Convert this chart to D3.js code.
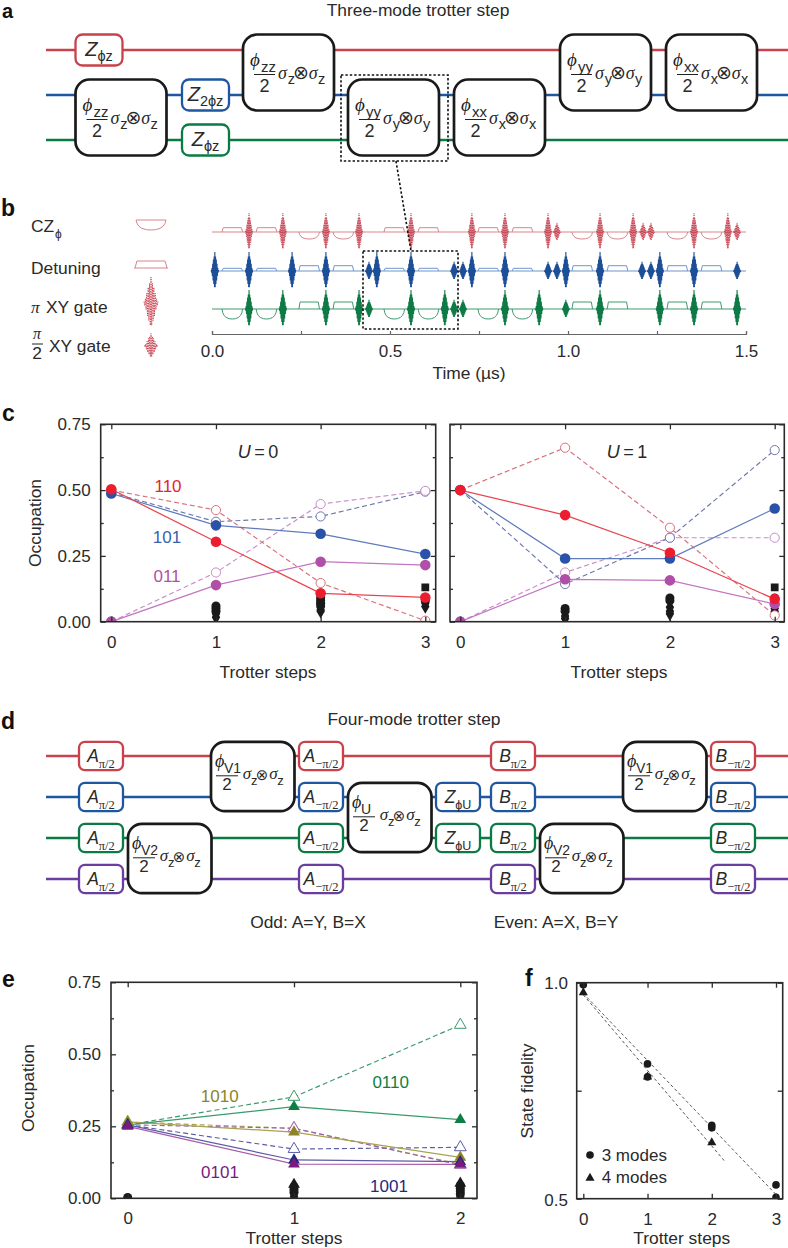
<!DOCTYPE html>
<html><head><meta charset="utf-8">
<script src="https://cdn.jsdelivr.net/npm/d3@7"></script>
<style>
html,body{margin:0;padding:0;background:#fff}
svg{display:block}
text{font-family:"Liberation Sans",Arial,sans-serif;fill:#2a2a2a}
.serif{font-family:"Liberation Serif",serif;font-style:italic}
.obl{font-style:italic}
</style></head><body>
<div id="c"></div>
<script>
// ---------- DATA ----------
const threeModeWires = ["red","blue","green"];
const fourModeWires = ["red","blue","green","purple"];
const threeModeGates = [
 {col:0,w0:0,w1:0,letter:"Z",sub:"ϕz"},
 {col:0,w0:1,w1:2,phi:"zz",pauli:"z"},
 {col:1,w0:1,w1:1,letter:"Z",sub:"2ϕz"},
 {col:1,w0:2,w1:2,letter:"Z",sub:"ϕz"},
 {col:2,w0:0,w1:1,phi:"zz",pauli:"z"},
 {col:3,w0:1,w1:2,phi:"yy",pauli:"y"},
 {col:4,w0:1,w1:2,phi:"xx",pauli:"x"},
 {col:5,w0:0,w1:1,phi:"yy",pauli:"y"},
 {col:6,w0:0,w1:1,phi:"xx",pauli:"x"}
];
const fourModeGates = [
 {col:0,w0:0,w1:0,letter:"A",sub:"π/2"},{col:0,w0:1,w1:1,letter:"A",sub:"π/2"},
 {col:0,w0:2,w1:2,letter:"A",sub:"π/2"},{col:0,w0:3,w1:3,letter:"A",sub:"π/2"},
 {col:1,w0:2,w1:3,phi:"V2",pauli:"z"},
 {col:2,w0:0,w1:1,phi:"V1",pauli:"z"},
 {col:3,w0:0,w1:0,letter:"A",sub:"−π/2"},{col:3,w0:1,w1:1,letter:"A",sub:"−π/2"},
 {col:3,w0:2,w1:2,letter:"A",sub:"−π/2"},{col:3,w0:3,w1:3,letter:"A",sub:"−π/2"},
 {col:4,w0:1,w1:2,phi:"U",pauli:"z"},
 {col:5,w0:1,w1:1,letter:"Z",sub:"ϕU"},{col:5,w0:2,w1:2,letter:"Z",sub:"ϕU"},
 {col:6,w0:0,w1:0,letter:"B",sub:"π/2"},{col:6,w0:1,w1:1,letter:"B",sub:"π/2"},
 {col:6,w0:2,w1:2,letter:"B",sub:"π/2"},{col:6,w0:3,w1:3,letter:"B",sub:"π/2"},
 {col:7,w0:2,w1:3,phi:"V2",pauli:"z"},
 {col:8,w0:0,w1:1,phi:"V1",pauli:"z"},
 {col:9,w0:0,w1:0,letter:"B",sub:"−π/2"},{col:9,w0:1,w1:1,letter:"B",sub:"−π/2"},
 {col:9,w0:2,w1:2,letter:"B",sub:"−π/2"},{col:9,w0:3,w1:3,letter:"B",sub:"−π/2"}
];
// Pulse sequence, times in microseconds
const timeTicks = [0,0.25,0.5,0.75,1,1.25,1.5];
const redPi = [.104,.199,.320,.413,.559,.730,.823,.944,1.090,1.183,1.354,1.449];
const redHalfPi = [.969,1.211,1.233,1.475];
const bluePi = [.008,.104,.225,.320,.463,.559,.730,.823,.994,1.090,1.258,1.354];
const blueHalfPi = [.441,.680,.705,.944,.969,1.208,1.233,1.475];
const greenPi = [.104,.199,.320,.413,.559,.654,.823,.919,1.090,1.258,1.354,1.475];
const greenHalfPi = [.441,.680,.705,.994];
const redSegments = [[.028,"det",.43],[.124,"det",.43],[.244,"cz",.7],[.340,"cz",.7],[.483,"det",.43],[.579,"det",.43],[.747,"det",.43],[.843,"det",.43],[1.011,"cz",.7],[1.110,"cz",.7],[1.278,"cz",.7],[1.374,"cz",.7]];
const blueSegments = [[.028,"det",.27],[.124,"det",.27],[.244,"det",.53],[.340,"det",.53],[.483,"det",.27],[.579,"det",.27],[.747,"det",.27],[.843,"det",.27],[1.011,"det",.53],[1.110,"det",.53],[1.278,"det",.53],[1.374,"det",.53]];
const greenSegments = [[.028,"cz",1],[.124,"cz",1],[.244,"det",.7],[.340,"det",.7],[.483,"cz",1],[.579,"cz",1],[.747,"cz",1],[.843,"cz",1],[1.011,"det",.7],[1.110,"det",.7],[1.278,"det",.7],[1.374,"det",.7]];
const pulseEnvelope = [.05,.09,.16,.26,.38,.5,.6,.68,.76,.86,1,.86,.76,.68,.6,.5,.38,.26,.16,.09,.05];
const bowlShape = [[0,0],[.04,.38],[.1,.64],[.2,.84],[.35,.97],[.5,1],[.65,.97],[.8,.84],[.9,.64],[.96,.38],[1,0]];
const trapezoidShape = [[0,0],[.06,1],[.94,1],[1,0]];
// Panel c
const steps3 = [0,1,2,3];
const u0Red = [.503,.304,.108,.092];
const u0Blue = [.487,.366,.334,.257];
const u0Purple = [0,.139,.228,.215];
const u0RedIdeal = [.5,.424,.147,.004];
const u0BlueIdeal = [.49,.38,.40,.494];
const u0PurpleIdeal = [0,.187,.447,.497];
const u0Black = [[0,.003,"c"],[1,.06,"c"],[1,.05,"c"],[1,.04,"c"],[1,.03,"d"],[1,.017,"d"],[2,.09,"c"],[2,.08,"c"],[2,.07,"c"],[2,.06,"c"],[2,.045,"d"],[2,.04,"d"],[3,.13,"s"],[3,.08,"c"],[3,.07,"d"],[3,.058,"d"]];
const u1Red = [.5,.405,.262,.086];
const u1Blue = [.5,.24,.24,.43];
const u1Purple = [0,.161,.157,.067];
const u1RedIdeal = [.5,.661,.357,.024];
const u1BlueIdeal = [.5,.143,.319,.652];
const u1PurpleIdeal = [0,.187,.319,.319];
const u1Black = [[0,.003,"c"],[1,.05,"c"],[1,.04,"c"],[1,.022,"d"],[1,.012,"d"],[2,.09,"c"],[2,.08,"c"],[2,.055,"d"],[2,.04,"d"],[2,.03,"d"],[3,.13,"s"],[3,.09,"c"],[3,.08,"c"],[3,.05,"d"],[3,.04,"d"]];
// Panel e
const steps2 = [0,1,2];
const e0110 = [.255,.318,.273];
const e1010 = [.265,.23,.142];
const e1001 = [.255,.133,.127];
const e0101 = [.25,.119,.118];
const e0110Ideal = [.255,.352,.602];
const e1010Ideal = [.265,.243,.118];
const e1001Ideal = [.255,.171,.177];
const e0101Ideal = [.255,.243,.116];
const eBlack = [[0,.003,"c"],[1,.048,"t"],[1,.04,"c"],[1,.03,"c"],[1,.02,"c"],[1,.006,"d"],[2,.052,"t"],[2,.045,"c"],[2,.035,"c"],[2,.025,"c"],[2,.015,"c"],[2,.005,"d"]];
// Panel f
const fidelity3Modes = [[0,.995],[1,.812],[1,.782],[2,.67],[2,.664],[3,.532],[3,.503]];
const fidelity4Modes = [[0,.977],[1,.782],[2,.63]];
const fit3Modes = [[0,.975],[3.03,.505]];
const fit4Modes = [[0,.972],[2.2,.587]];

// ---------- STYLE / LAYOUT ----------
const W=788,H=1248;
const wireColor={red:"#c8414b",blue:"#1f56a0",green:"#0c7a45",purple:"#6a3d9e"};
const seqLight={red:"#d9858c",blue:"#6f96cc",green:"#3f9a6e"};
const seqDark={red:"#c02f3e",blue:"#1d4f98",green:"#0e7a45"};
const svg=d3.select("#c").append("svg").attr("width",W).attr("height",H).attr("viewBox",[0,0,W,H]);
const defs=svg.append("defs");
const FS=17.4;

function T(g,x,y,s,o={}){
  return g.append("text").attr("x",x).attr("y",y).text(s)
    .attr("font-size",o.size||FS).attr("text-anchor",o.anchor||"start")
    .attr("class",o.cls||null).style("fill",o.fill||null)
    .attr("font-weight",o.weight||null).attr("transform",o.rot?`rotate(${o.rot} ${x} ${y})`:null)
    .attr("dominant-baseline",o.mid?"middle":null);
}
[["a",2,18.2,20],["b",1,216,23],["c",2,420.5,23],["d",1,729,23],["e",2,987,23],["f",525,986,23]].forEach(([s,x,y,z])=>
  T(svg,x,y,s,{size:z,weight:"bold",fill:"#111"}));

// ---------- circuits ----------
function bigLabel(g,x0,y0,gate,m){
  T(g,x0+m.phiX,y0+m.phiY,"ϕ",{cls:"serif",size:m.phiS,fill:"#222"});
  T(g,x0+m.subX,y0+m.subY,gate.phi,{size:m.subS});
  g.append("line").attr("x1",x0+m.fr0).attr("x2",x0+m.fr1).attr("y1",y0+m.frY).attr("y2",y0+m.frY).attr("stroke","#222").attr("stroke-width",1);
  T(g,(2*x0+m.fr0+m.fr1)/2,y0+m.twoY,"2",{anchor:"middle",size:m.twoS});
  T(g,x0+m.s1,y0+m.sY,"σ",{cls:"serif",size:m.sS});
  T(g,x0+m.z1,y0+m.zY,gate.pauli,{size:m.zS});
  T(g,x0+m.ot,y0+m.otY,"⊗",{anchor:"middle",size:m.otS,mid:true}).style("font-family","DejaVu Sans");
  T(g,x0+m.s2,y0+m.sY,"σ",{cls:"serif",size:m.sS});
  T(g,x0+m.z2,y0+m.zY,gate.pauli,{size:m.zS});
}
function circuit(names,gates,o){
  const g=svg.append("g");
  const wy=d3.scaleLinear().domain([0,names.length-1]).range(o.wy);
  names.forEach((n,i)=>g.append("line").attr("x1",46).attr("x2",W).attr("y1",wy(i)).attr("y2",wy(i)).attr("stroke",wireColor[n]).attr("stroke-width",2.4));
  gates.forEach(d=>{
    const big=!!d.phi, x0=o.colLeft[d.col], y0=wy(d.w0)-o.pad, y1=wy(d.w1)+o.pad, w=big?o.bigW:o.smallW;
    g.append("rect").attr("x",x0).attr("y",y0).attr("width",w).attr("height",y1-y0).attr("rx",big?14:o.smallR)
      .attr("fill","#fff").attr("stroke",big?"#1a1a1a":wireColor[names[d.w0]]).attr("stroke-width",big?2.7:2.3);
    if(big) bigLabel(g,x0,y0,d,o.m);
    else{
      const t=g.append("text").attr("x",x0+w/2).attr("y",y0+o.letY).attr("text-anchor","middle");
      t.append("tspan").attr("class","obl").attr("font-size",o.letS).text(d.letter);
      t.append("tspan").attr("font-size",o.subS).attr("dy",o.subDy)
        .style("font-family",d.letter==="Z"?null:"Liberation Serif").text(d.sub);
    }
  });
}
circuit(threeModeWires,threeModeGates,{wy:[50,140],pad:15.5,colLeft:[75.5,182,243,348,454,560,666],bigW:91,smallW:47,smallR:7,
  letY:21,letS:20,subS:14.5,subDy:5,
  m:{phiX:7,phiY:31,phiS:19,subX:18,subY:37,subS:15,fr0:11,fr1:32,frY:40,twoY:57,twoS:18,s1:35,sY:44,sS:18,z1:44.7,zY:49.5,zS:14.5,ot:58,otY:38.7,otS:19,s2:65.7,z2:75}});
circuit(fourModeWires,fourModeGates,{wy:[756,879],pad:14.2,colLeft:[79,128,211,299,348,436,491,540,623,711],bigW:83.5,smallW:44,smallR:6,
  letY:20,letS:17.5,subS:12.5,subDy:6,
  m:{phiX:4,phiY:25,phiS:18,subX:13,subY:31,subS:14,fr0:5,fr1:27,frY:34,twoY:48.6,twoS:17,s1:31.7,sY:37,sS:17,z1:40,zY:43,zS:13,ot:51,otY:34,otS:15,s2:58.3,z2:66.3}});
T(svg,418,16,"Three-mode trotter step",{anchor:"middle"});
T(svg,414,725,"Four-mode trotter step",{anchor:"middle"});
T(svg,308,928,"Odd: A=Y, B=X",{anchor:"middle"});
T(svg,556,928,"Even: A=X, B=Y",{anchor:"middle"});

// ---------- pulse sequence ----------
const tx=d3.scaleLinear().domain([0,1.5]).range([212,746]);
const ampPx=d3.scaleLinear().domain([0,1]).range([0,-10]);
const pulseUnits={pi:1.9,half:.92};
function pulsePath(cx,cy,amp,halfW){
  const n=pulseEnvelope.length-1;
  const px=d3.scaleLinear().domain([0,n]).range([cx-halfW,cx+halfW]);
  const L=d3.line().x((d,i)=>px(i)).y((d,i)=>cy+(i%2?-1:1)*ampPx(d*amp));
  return L(pulseEnvelope);
}
function shapePath(shape,x0,x1,cy,amp,sign){
  const sx=d3.scaleLinear().domain([0,1]).range([x0,x1]);
  return d3.line().x(d=>sx(d[0])).y(d=>cy+sign*ampPx(d[1]*amp))(shape);
}
const segW=.058;
function sequence(name,y,pis,halfs,segs){
  const g=svg.append("g");
  g.append("line").attr("x1",tx(0)).attr("x2",tx(1.5)).attr("y1",y).attr("y2",y).attr("stroke",seqLight[name]).attr("stroke-width",1.2);
  segs.forEach(([t,k,a])=>g.append("path").attr("fill","none").attr("stroke",seqLight[name]).attr("stroke-width",1)
    .attr("d",k==="det"?shapePath(trapezoidShape,tx(t),tx(t+segW),y,a,1):shapePath(bowlShape,tx(t),tx(t+segW),y,a,-1)));
  const red=name==="red";
  [[pis,pulseUnits.pi],[halfs,pulseUnits.half]].forEach(([arr,a])=>arr.forEach(t=>
    g.append("path").attr("fill","none").attr("stroke",seqDark[name]).attr("stroke-width",red?.7:1.1)
     .attr("stroke-dasharray",red?"1.3,1.1":null).attr("d",pulsePath(tx(t),y,a,3.6))));
}
sequence("red",232,redPi,redHalfPi,redSegments);
sequence("blue",271,bluePi,blueHalfPi,blueSegments);
sequence("green",309,greenPi,greenHalfPi,greenSegments);
const tAxis=d3.axisBottom(tx).tickValues(timeTicks).tickSizeInner(-3).tickSizeOuter(-3).tickPadding(9)
  .tickFormat(d=>[0,.5,1,1.5].includes(d)?d3.format(".1f")(d):"");
const tg=svg.append("g").attr("transform","translate(0,334)").call(tAxis);
tg.selectAll("path,line").attr("stroke","#666").attr("stroke-width",1.2);
tg.selectAll("text").attr("font-size",17).attr("font-family",null).attr("dy","0.82em");
T(svg,469,379,"Time (µs)",{anchor:"middle"});
// dashed selection
const dash="2.4,2";
[[341,75,107,86],[363,251,95,78]].forEach(([x,y,w,h])=>svg.append("rect").attr("x",x).attr("y",y).attr("width",w).attr("height",h)
  .attr("fill","none").attr("stroke","#111").attr("stroke-width",1.6).attr("stroke-dasharray",dash));
svg.append("line").attr("x1",396).attr("y1",161).attr("x2",411).attr("y2",251).attr("stroke","#111").attr("stroke-width",1.6).attr("stroke-dasharray",dash);
// legend of the pulse panel
T(svg,31,232,"CZ");T(svg,55,238,"ϕ",{size:12});
T(svg,31,274,"Detuning");
T(svg,31,313,"π",{cls:"serif"});T(svg,46,313,"XY gate");
T(svg,37,339,"π",{cls:"serif",anchor:"middle",size:16});
svg.append("line").attr("x1",32).attr("x2",43).attr("y1",344).attr("y2",344).attr("stroke","#222");
T(svg,37,359,"2",{anchor:"middle"});T(svg,49,352,"XY gate");
const lg=svg.append("g");
lg.append("line").attr("x1",136).attr("x2",166).attr("y1",220).attr("y2",220).attr("stroke",seqLight.red);
lg.append("path").attr("fill","none").attr("stroke",seqLight.red).attr("d",shapePath(bowlShape,136,166,220,1,-1));
lg.append("line").attr("x1",134).attr("x2",168).attr("y1",268).attr("y2",268).attr("stroke",seqLight.red);
lg.append("path").attr("fill","none").attr("stroke",seqLight.red).attr("d",shapePath(trapezoidShape,135,167,268,.7,1));
lg.append("path").attr("fill","none").attr("stroke",seqDark.red).attr("stroke-width",.8).attr("stroke-dasharray","1.4,1.1").attr("d",pulsePath(151,303,2.6,7));
lg.append("path").attr("fill","none").attr("stroke",seqDark.red).attr("stroke-width",.8).attr("stroke-dasharray","1.4,1.1").attr("d",pulsePath(151,346,1.25,6.5));

// ---------- plots ----------
const sym={c:d3.symbolCircle,s:d3.symbolSquare,d:d3.symbolDiamond,t:d3.symbolTriangle};
const symSize={c:64,s:60,d:62,t:60};
function mark(g,x,y,k,fill,stroke,size){
  g.append("path").attr("d",d3.symbol(sym[k],size||symSize[k])).attr("transform",`translate(${x},${y})`)
    .attr("fill",fill).attr("stroke",stroke||"none").attr("stroke-width",stroke?1:0);
}
let clipN=0;
function frame(o){
  const g=svg.append("g");
  const x=d3.scaleLinear().domain(o.xd).range(o.xr), y=d3.scaleLinear().domain(o.yd).range([o.b,o.t]);
  const id="clip"+(++clipN);
  defs.append("clipPath").attr("id",id).append("rect").attr("x",o.l).attr("y",o.t).attr("width",o.r-o.l).attr("height",o.b-o.t);
  const plot=g.append("g").attr("clip-path",`url(#${id})`);
  const ax=g.append("g");
  const style=a=>{a.selectAll("path").remove();a.selectAll("line").attr("stroke","#2a2a2a").attr("stroke-width",1.3);a.selectAll("text").attr("font-size",17).attr("font-family",null);return a;};
  style(ax.append("g").attr("transform",`translate(0,${o.b})`).call(d3.axisBottom(x).tickValues(o.xt).tickFormat(d3.format("d")).tickSizeInner(-5).tickSizeOuter(0).tickPadding(14)));
  style(ax.append("g").attr("transform",`translate(0,${o.t})`).call(d3.axisTop(x).tickValues(o.xt).tickFormat("").tickSizeInner(-5).tickSizeOuter(0)));
  const yl=d3.axisLeft(y).tickValues(o.yt).tickFormat(o.ylabels?d3.format(o.yf):"").tickSizeInner(-5).tickSizeOuter(0).tickPadding(10);
  style(ax.append("g").attr("transform",`translate(${o.l},0)`).call(yl));
  style(ax.append("g").attr("transform",`translate(${o.r},0)`).call(d3.axisRight(y).tickValues(o.yt).tickFormat("").tickSizeInner(-5).tickSizeOuter(0)));
  if(o.ym){
    style(ax.append("g").attr("transform",`translate(${o.l},0)`).call(d3.axisLeft(y).tickValues(o.ym).tickFormat("").tickSizeInner(-3).tickSizeOuter(0)));
    style(ax.append("g").attr("transform",`translate(${o.r},0)`).call(d3.axisRight(y).tickValues(o.ym).tickFormat("").tickSizeInner(-3).tickSizeOuter(0)));
  }
  g.append("rect").attr("x",o.l).attr("y",o.t).attr("width",o.r-o.l).attr("height",o.b-o.t).attr("fill","none").attr("stroke","#2a2a2a").attr("stroke-width",1.6);
  return {plot,x,y};
}
function occupation(o,steps,ideal,real,black,marker){
  const F=frame(o), line=d3.line().x((d,i)=>F.x(steps[i])).y(d=>F.y(d));
  black.forEach(([s,v,k])=>mark(F.plot,F.x(s),F.y(v),k,"#1a1a1a"));
  ideal.forEach(s=>F.plot.append("path").attr("fill","none").attr("stroke",s.line).attr("stroke-width",1.15).attr("stroke-dasharray","5,3").attr("d",line(s.v)));
  ideal.forEach(s=>s.v.forEach((v,i)=>mark(F.plot,F.x(steps[i]),F.y(v),marker,"#fff",s.line,marker==="c"?66:60)));
  real.forEach(s=>F.plot.append("path").attr("fill","none").attr("stroke",s.line).attr("stroke-width",1.25).attr("d",line(s.v)));
  real.forEach(s=>s.v.forEach((v,i)=>mark(F.plot,F.x(steps[i]),F.y(v),marker,s.fill,null,marker==="c"?88:60)));
  return F;
}
const cols={r:{line:"#e8454f",fill:"#ed1c2e",open:"#d8707c"},b:{line:"#5f7cbc",fill:"#2a52a8",open:"#6f78ad"},p:{line:"#c277c2",fill:"#b04fa8",open:"#c98ccb"}};
const cBase={t:424.3,b:621.7,xd:[0,3],xt:steps3,yd:[0,.75],yt:[0,.25,.5,.75],ym:[.125,.375,.625],yf:".2f"};
occupation({...cBase,l:100.7,r:435.7,xr:[111.3,425.3],ylabels:true},steps3,
 [{v:u0BlueIdeal,line:cols.b.open},{v:u0PurpleIdeal,line:cols.p.open},{v:u0RedIdeal,line:cols.r.open}],
 [{v:u0Purple,line:cols.p.line,fill:cols.p.fill},{v:u0Blue,line:cols.b.line,fill:cols.b.fill},{v:u0Red,line:cols.r.line,fill:cols.r.fill}],u0Black,"c");
occupation({...cBase,l:450,r:784.3,xr:[460.3,774.7],ylabels:false},steps3,
 [{v:u1PurpleIdeal,line:cols.p.open},{v:u1BlueIdeal,line:cols.b.open},{v:u1RedIdeal,line:cols.r.open}],
 [{v:u1Purple,line:cols.p.line,fill:cols.p.fill},{v:u1Blue,line:cols.b.line,fill:cols.b.fill},{v:u1Red,line:cols.r.line,fill:cols.r.fill}],u1Black,"c");
T(svg,36,523,"Occupation",{anchor:"middle",rot:-90}).attr("dominant-baseline","middle");
T(svg,268,678,"Trotter steps",{anchor:"middle"});
T(svg,619,678,"Trotter steps",{anchor:"middle"});
function uLabel(x,s){const t=svg.append("text").attr("x",x).attr("y",458).attr("font-size",18).attr("text-anchor","middle");
  t.append("tspan").attr("font-style","italic").text("U");t.append("tspan").text("\u2009=\u2009"+s);}
uLabel(258,"0");uLabel(627,"1");
T(svg,168,492,"110",{anchor:"middle",size:17,fill:"#e3252f"});
T(svg,167,543,"101",{anchor:"middle",size:17,fill:"#3a5fae"});
T(svg,167,582,"011",{anchor:"middle",size:17,fill:"#b04fa8"});

const ec={g:{line:"#3a9a6a",fill:"#0d7f45"},o:{line:"#a6a44f",fill:"#8a8528"},n:{line:"#5c5ca6",fill:"#232a7d"},p:{line:"#a75cab",fill:"#7a1a80"}};
occupation({l:111,r:477,t:982.3,b:1198.3,xd:[0,2],xr:[127.7,460.3],xt:steps2,yd:[0,.75],yt:[0,.25,.5,.75],ym:[.125,.375,.625],yf:".2f",ylabels:true},steps2,
 [{v:e0110Ideal,line:ec.g.line},{v:e1001Ideal,line:ec.n.line},{v:e1010Ideal,line:ec.o.line},{v:e0101Ideal,line:ec.p.line}],
 [{v:e1010,line:ec.o.line,fill:ec.o.fill},{v:e0110,line:ec.g.line,fill:ec.g.fill},{v:e1001,line:ec.n.line,fill:ec.n.fill},{v:e0101,line:ec.p.line,fill:ec.p.fill}],eBlack,"t");
T(svg,29,1088,"Occupation",{anchor:"middle",rot:-90}).attr("dominant-baseline","middle");
T(svg,294,1244,"Trotter steps",{anchor:"middle"});
T(svg,219.7,1102,"1010",{anchor:"middle",size:17,fill:ec.o.fill});
T(svg,390.7,1088,"0110",{anchor:"middle",size:17,fill:ec.g.fill});
T(svg,220,1177.5,"0101",{anchor:"middle",size:17,fill:ec.p.fill});
T(svg,389,1191.5,"1001",{anchor:"middle",size:17,fill:ec.n.fill});

const Ff=frame({l:576.7,r:782.7,t:982.7,b:1198.7,xd:[0,3],xr:[583.3,776],xt:steps3,yd:[.5,1],yt:[.5,.75,1],yf:".1f",ylabels:false});
const fl=d3.line().x(d=>Ff.x(d[0])).y(d=>Ff.y(d[1]));
[fit3Modes,fit4Modes].forEach(f=>Ff.plot.append("path").attr("fill","none").attr("stroke","#555").attr("stroke-width",1).attr("stroke-dasharray","3,2.5").attr("d",fl(f)));
fidelity3Modes.forEach(d=>mark(Ff.plot,Ff.x(d[0]),Ff.y(d[1]),"c","#1a1a1a",null,46));
fidelity4Modes.forEach(d=>mark(Ff.plot,Ff.x(d[0]),Ff.y(d[1]),"t","#1a1a1a",null,36));
T(svg,568,989,"1.0",{anchor:"end",size:17});
T(svg,568,1206,"0.5",{anchor:"end",size:17});
T(svg,528,1091,"State fidelity",{anchor:"middle",rot:-90}).attr("dominant-baseline","middle");
T(svg,681.7,1244,"Trotter steps",{anchor:"middle"});
mark(svg,590,1155,"c","#1a1a1a",null,46);T(svg,601.7,1161,"3 modes",{size:17});
mark(svg,590,1178,"t","#1a1a1a",null,36);T(svg,601.7,1183,"4 modes",{size:17});
</script></body></html>
